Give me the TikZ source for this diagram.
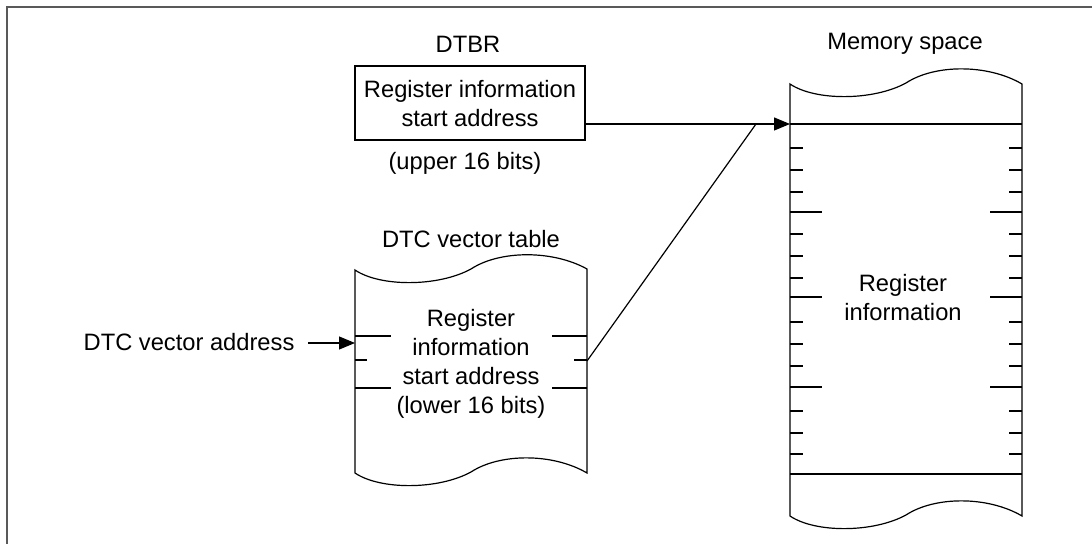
\documentclass[tikz,border=0pt]{standalone}
\usepackage{fontspec}
\setmainfont{Liberation Sans}
\usetikzlibrary{arrows.meta}
\begin{document}
\begin{tikzpicture}[x=0.5pt,y=-0.5pt,
  line width=0.6pt,
  txt/.style={font=\fontsize{11.85}{14.5}\selectfont, inner sep=0pt, align=center},
  arr/.style={-{Triangle[length=8pt,width=6.5pt]}},
  sheet/.style={draw, fill=white, line join=miter},
  frameline/.style={draw=black!65, line width=1pt}]
\useasboundingbox (0,0) rectangle (1092,544);
% frame
\draw[frameline] (1092,7) -- (7,7) -- (7,544);

% DTBR
\node[txt] (dtbrlbl) at (468,44) {DTBR};
\node[txt, draw, inner sep=0pt, text depth=0pt, minimum width=115pt, minimum height=37pt] (dtbr) at (470,103) {Register information\\start address};
\node[txt] (upper) at (465,163) {(upper 16 bits)};

% DTC vector table
\node[txt] (dtclbl) at (471,239) {DTC vector table};
\path[sheet] (355,270) .. controls (380,287) and (438,287) .. (471,269)
  .. controls (500,250) and (553,250) .. (587,269)
  -- (587,473) .. controls (553,453) and (500,453) .. (471,472)
  .. controls (438,490) and (380,490) .. (355,473) -- cycle;
\draw (355,336) -- (391,336) (552,336) -- (587,336);
\draw (355,360) -- (367,360) (574,360) -- (587,360);
\draw (355,388) -- (391,388) (552,388) -- (587,388);
\node[txt, text depth=0pt] (dtctext) at (471,361.5) {Register\\information\\start address\\(lower 16 bits)};

% Memory space
\node[txt] (memlbl) at (905,44) {Memory space};
\path[sheet] (790,84) .. controls (815,101) and (873,101) .. (906,83)
  .. controls (935,64) and (988,64) .. (1022,84)
  -- (1022,516) .. controls (988,496) and (935,496) .. (906,515)
  .. controls (873,533) and (815,533) .. (790,516) -- cycle;
\draw (790,124) -- (1022,124);
\draw (790,474) -- (1022,474);
\foreach \y in {148,170,192,234,256,278,322,344,366,411,433,454}
  \draw (790,\y) -- (803,\y) (1009,\y) -- (1022,\y);
\foreach \y in {212,297,387}
  \draw (790,\y) -- (822,\y) (990,\y) -- (1022,\y);
\node[txt] (memtext) at (903,297.5) {Register\\information};

% connectors
\coordinate (memin) at (790,124);
\coordinate (join) at (756,124);
\coordinate (dtcout) at (587,361);
\coordinate (dtcin) at (355,343);
\draw[arr] (dtbr.east |- memin) -- (memin);
\draw (dtcout) -- (join);
\node[txt, anchor=east] (dva) at (295,342) {DTC vector address};
\draw[arr] ([xshift=6.5pt]dva.east |- dtcin) -- (dtcin);
\end{tikzpicture}
\end{document}
